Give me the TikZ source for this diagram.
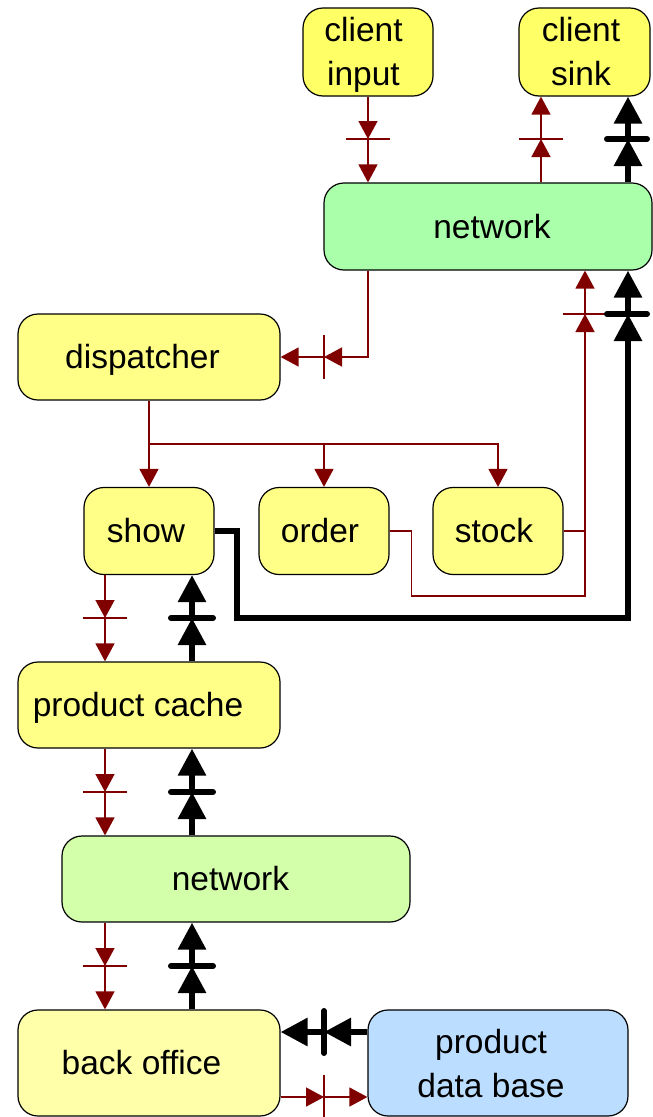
\documentclass[tikz,border=0pt]{standalone}
\usepackage{fontspec}
\setmainfont{Liberation Sans}
\usetikzlibrary{arrows.meta}
\definecolor{dred}{HTML}{800000}
\definecolor{cyel}{HTML}{FFFF66}
\definecolor{myel}{HTML}{FFFF88}
\definecolor{lyel}{HTML}{FFFFAA}
\definecolor{gnet}{HTML}{AAFFAA}
\definecolor{lnet}{HTML}{D4FFAA}
\definecolor{bdb}{HTML}{BBDDFF}
% label placed with its first baseline at node centre + offsets
\newcommand\lbl[3]{\raisebox{#2}[0pt][0pt]{\hspace*{#1}\begin{tabular}[t]{@{}c@{}}#3\end{tabular}\hspace*{-#1}}}
\begin{document}
\begin{tikzpicture}[x=1pt,y=-1pt,
  box/.style={draw=black, line width=1.2pt, rounded corners=20pt, inner sep=0pt,
    font=\fontsize{33.5}{44}\selectfont},
  rl/.style={draw=dred, line width=1.4pt},
  rtip/.style={-{Triangle[length=18pt,width=19pt]}},
  bl/.style={draw=black, line width=6pt},
  btip/.style={-{Triangle[length=27pt,width=27pt]}},
  bbar/.style={draw=black, line width=6pt, line cap=round}]
\useasboundingbox (0,0) rectangle (653,1117);
% nodes
\node[box, fill=cyel, minimum width=130pt, minimum height=88pt] (cin) at (368,52) {\lbl{-4.5pt}{10.5pt}{client\\input}};
\node[box, fill=cyel, minimum width=131pt, minimum height=88pt] (csink) at (584.5,52) {\lbl{-3.5pt}{10.5pt}{client\\sink}};
\node[box, fill=gnet, minimum width=328pt, minimum height=87pt] (net1) at (488,226.5) {\lbl{4pt}{-11.5pt}{network}};
\node[box, fill=myel, minimum width=262pt, minimum height=86pt] (disp) at (149,357) {\lbl{-6.5pt}{-11.5pt}{dispatcher}};
\node[box, fill=myel, minimum width=130pt, minimum height=87pt] (show) at (149,531) {\lbl{-3pt}{-11.5pt}{show}};
\node[box, fill=myel, minimum width=130pt, minimum height=87pt] (order) at (324,531) {\lbl{-4pt}{-11.5pt}{order}};
\node[box, fill=myel, minimum width=130pt, minimum height=87pt] (stock) at (498,531) {\lbl{-4pt}{-11.5pt}{stock}};
\node[box, fill=myel, minimum width=262pt, minimum height=86pt] (pcache) at (149,705) {\lbl{-11pt}{-11.5pt}{product cache}};
\node[box, fill=lnet, minimum width=348pt, minimum height=86pt] (net2) at (236,879) {\lbl{-5.5pt}{-11.5pt}{network}};
\node[box, fill=lyel, minimum width=262pt, minimum height=106pt] (back) at (149,1063) {\lbl{-7.5pt}{-11.5pt}{back office}};
\node[box, fill=bdb, minimum width=260pt, minimum height=106pt] (pdb) at (498,1063) {\lbl{-7pt}{10pt}{product\\data base}};
% client input -> network
\coordinate (m1) at (368,139);
\draw[rl,rtip] (cin.south) -- (m1);
\draw[rl,rtip] (m1) -- (m1 |- net1.north);
\draw[rl] ([xshift=-22pt]m1) -- ([xshift=22pt]m1);
% network -> client sink (red)
\coordinate (m2) at (541,139);
\draw[rl,rtip] (m2 |- net1.north) -- (m2);
\draw[rl,rtip] (m2) -- (m2 |- csink.south);
\draw[rl] ([xshift=-22pt]m2) -- ([xshift=22pt]m2);
% network -> client sink (black)
\coordinate (m3) at (628,139);
\draw[bl,btip] (m3 |- net1.north) -- (m3);
\draw[bl,btip] (m3) -- (m3 |- csink.south);
\draw[bbar] ([xshift=-21pt]m3) -- ([xshift=19pt]m3);
% network -> dispatcher
\coordinate (c4) at (368,357);
\coordinate (m4) at (324,357);
\draw[rl,rtip] (c4 |- net1.south) -- (c4) -- (m4);
\draw[rl,rtip] (m4) -- (disp.east);
\draw[rl] ([yshift=-22pt]m4) -- ([yshift=22pt]m4);
% order/stock -> network
\coordinate (m5) at (585,314);
\coordinate (j5) at (585,596);
\draw[rl] (order.east) -- ++(22,0) |- (j5) -- (j5 |- stock.east);
\draw[rl,rtip] (stock.east) -| (m5);
\draw[rl,rtip] (m5) -- (m5 |- net1.south);
\draw[rl] ([xshift=-22pt]m5) -- ([xshift=20pt]m5);
% show -> network (black)
\coordinate (m6) at (628,314);
\coordinate (j6) at (628,618);
\draw[bl,btip] (show.east) -- ++(22,0) |- (j6) -- (m6);
\draw[bl,btip] (m6) -- (m6 |- net1.south);
\draw[bbar] ([xshift=-21pt]m6) -- ([xshift=19pt]m6);
% dispatcher -> show, order, stock
\coordinate (s7) at (149,444);
\draw[rl,rtip] (disp.south) -- (show.north);
\draw[rl,rtip] (s7) -| (order.north);
\draw[rl,rtip] (s7) -| (stock.north);
% show <-> product cache
\coordinate (a1) at (105,618);
\coordinate (b1) at (192,618);
\draw[rl,rtip] (a1 |- show.south) -- (a1);
\draw[rl,rtip] (a1) -- (a1 |- pcache.north);
\draw[rl] ([xshift=-22pt]a1) -- ([xshift=22pt]a1);
\draw[bl,btip] (b1 |- pcache.north) -- (b1);
\draw[bl,btip] (b1) -- (b1 |- show.south);
\draw[bbar] ([xshift=-21pt]b1) -- ([xshift=21pt]b1);
% product cache <-> network
\coordinate (a2) at (105,792);
\coordinate (b2) at (192,792);
\draw[rl,rtip] (a2 |- pcache.south) -- (a2);
\draw[rl,rtip] (a2) -- (a2 |- net2.north);
\draw[rl] ([xshift=-22pt]a2) -- ([xshift=22pt]a2);
\draw[bl,btip] (b2 |- net2.north) -- (b2);
\draw[bl,btip] (b2) -- (b2 |- pcache.south);
\draw[bbar] ([xshift=-21pt]b2) -- ([xshift=21pt]b2);
% network <-> back office
\coordinate (a3) at (105,966);
\coordinate (b3) at (192,966);
\draw[rl,rtip] (a3 |- net2.south) -- (a3);
\draw[rl,rtip] (a3) -- (a3 |- back.north);
\draw[rl] ([xshift=-22pt]a3) -- ([xshift=22pt]a3);
\draw[bl,btip] (b3 |- back.north) -- (b3);
\draw[bl,btip] (b3) -- (b3 |- net2.south);
\draw[bbar] ([xshift=-21pt]b3) -- ([xshift=21pt]b3);
% product data base -> back office
\coordinate (m11) at (324,1032);
\draw[bl,btip] (m11 -| pdb.west) -- (m11);
\draw[bl,btip] (m11) -- (m11 -| back.east);
\draw[bbar] ([yshift=-21pt]m11) -- ([yshift=21pt]m11);
% back office -> product data base
\coordinate (m12) at (324,1097);
\draw[rl,rtip] (m12 -| back.east) -- (m12);
\draw[rl,rtip] (m12) -- (m12 -| pdb.west);
\draw[rl] ([yshift=-22pt]m12) -- ([yshift=22pt]m12);
\end{tikzpicture}
\end{document}
